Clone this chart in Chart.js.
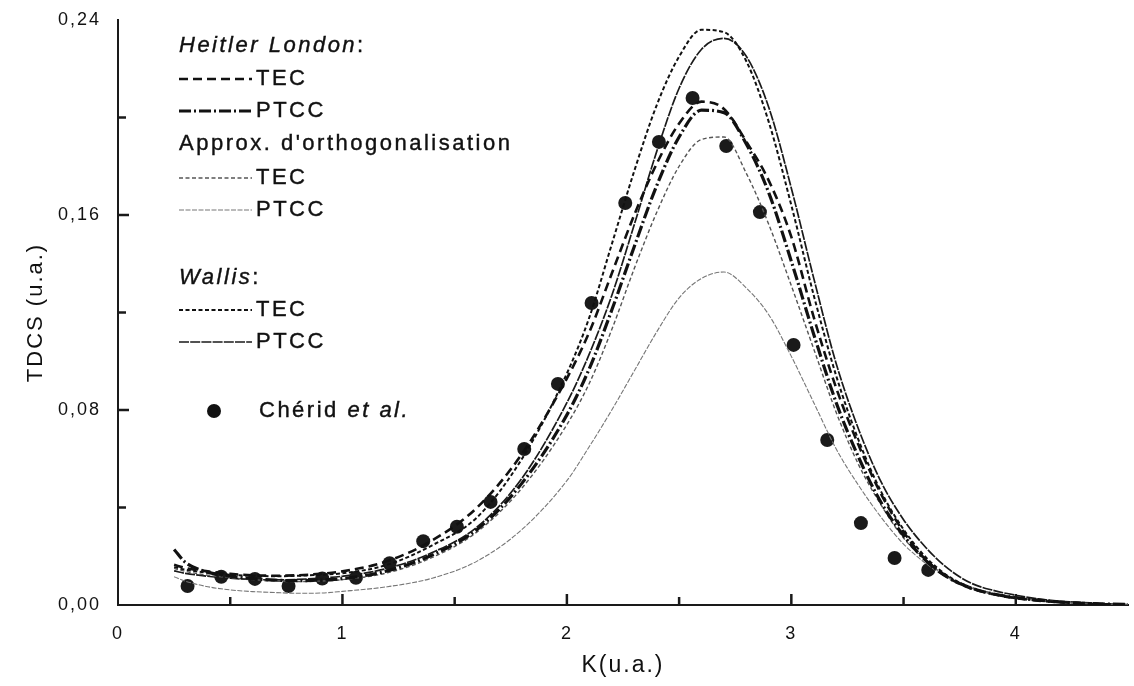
<!DOCTYPE html>
<html>
<head>
<meta charset="utf-8">
<script src="https://cdn.jsdelivr.net/npm/chart.js@4.4.0/dist/chart.umd.min.js"></script>
<style>
  html, body { margin: 0; padding: 0; background: #fff; }
  #wrap { width: 1134px; height: 686px; }
</style>
</head>
<body>
<div id="wrap"><canvas id="tdcsChart"></canvas></div>
<script>
// K grid (u.a.) shared by every theoretical curve
const kGrid = [0.25, 0.3, 0.4, 0.5, 0.6, 0.7, 0.8, 0.9, 1.0,
  1.2, 1.4, 1.6, 1.8, 2.0,
  2.1, 2.2, 2.3, 2.4, 2.5, 2.6, 2.7, 2.8, 2.9, 3.0,
  3.1, 3.2, 3.3, 3.4, 3.5, 3.6, 3.7, 3.8, 3.9, 4.0,
  4.1, 4.2, 4.3, 4.4, 4.5];

// Heitler London
const hlTec = [0.0165, 0.0152, 0.0138, 0.0128, 0.0122, 0.0120, 0.0122, 0.0128, 0.0138,
  0.0180, 0.0265, 0.0400, 0.0620, 0.0930,
  0.1120, 0.1360, 0.1600, 0.1810, 0.1975, 0.2065, 0.2035, 0.1900, 0.1740, 0.1510,
  0.1180, 0.0890, 0.0655, 0.0455, 0.0300, 0.0185, 0.0112, 0.0068, 0.0044, 0.0028,
  0.0018, 0.0011, 0.0006, 0.0003, 0.0001];
const hlPtcc = [0.0228, 0.0175, 0.0135, 0.0118, 0.0108, 0.0102, 0.0100, 0.0102, 0.0108,
  0.0140, 0.0205, 0.0310, 0.0500, 0.0780,
  0.0970, 0.1210, 0.1470, 0.1720, 0.1920, 0.2030, 0.2020, 0.1890, 0.1690, 0.1410,
  0.1110, 0.0830, 0.0605, 0.0420, 0.0285, 0.0182, 0.0112, 0.0070, 0.0045, 0.0030,
  0.0020, 0.0012, 0.0007, 0.0004, 0.0002];

// Approx. d'orthogonalisation
const orthTec = [0.0150, 0.0138, 0.0122, 0.0112, 0.0104, 0.0098, 0.0096, 0.0098, 0.0104,
  0.0132, 0.0195, 0.0300, 0.0480, 0.0740,
  0.0910, 0.1130, 0.1380, 0.1610, 0.1800, 0.1910, 0.1920, 0.1770, 0.1560, 0.1310,
  0.1050, 0.0790, 0.0575, 0.0410, 0.0275, 0.0182, 0.0112, 0.0070, 0.0045, 0.0030,
  0.0020, 0.0012, 0.0007, 0.0004, 0.0002];
const orthPtcc = [0.0116, 0.0098, 0.0075, 0.0062, 0.0055, 0.0051, 0.0048, 0.0049, 0.0056,
  0.0075, 0.0110, 0.0180, 0.0310, 0.0510,
  0.0650, 0.0800, 0.0960, 0.1120, 0.1260, 0.1340, 0.1366, 0.1300, 0.1190, 0.1020,
  0.0830, 0.0640, 0.0490, 0.0360, 0.0250, 0.0170, 0.0110, 0.0070, 0.0045, 0.0030,
  0.0020, 0.0012, 0.0007, 0.0004, 0.0002];

// Wallis
const wallisTec = [0.0155, 0.0145, 0.0132, 0.0124, 0.0120, 0.0118, 0.0120, 0.0124, 0.0130,
  0.0165, 0.0245, 0.0360, 0.0600, 0.0950,
  0.1180, 0.1480, 0.1780, 0.2050, 0.2250, 0.2360, 0.2350, 0.2230, 0.1980, 0.1640,
  0.1270, 0.0940, 0.0675, 0.0465, 0.0310, 0.0195, 0.0118, 0.0072, 0.0046, 0.0030,
  0.0020, 0.0013, 0.0008, 0.0004, 0.0002];
const wallisPtcc = [0.0140, 0.0130, 0.0118, 0.0110, 0.0105, 0.0103, 0.0105, 0.0110, 0.0118,
  0.0150, 0.0215, 0.0320, 0.0520, 0.0830,
  0.1030, 0.1270, 0.1560, 0.1860, 0.2120, 0.2280, 0.2325, 0.2250, 0.2040, 0.1710,
  0.1340, 0.0990, 0.0720, 0.0505, 0.0350, 0.0235, 0.0148, 0.0090, 0.0060, 0.0040,
  0.0025, 0.0015, 0.0010, 0.0005, 0.0002];

// Chérid et al. (experiment)
const cheridK = [0.31, 0.46, 0.61, 0.76, 0.91, 1.06, 1.21, 1.36, 1.51, 1.66, 1.81, 1.96,
  2.11, 2.26, 2.41, 2.56, 2.71, 2.86, 3.01, 3.16, 3.31, 3.46, 3.61];
const cheridTdcs = [0.0078, 0.0116, 0.0107, 0.0078, 0.0109, 0.0112, 0.0171, 0.0262, 0.0321,
  0.0423, 0.0640, 0.0907, 0.1239, 0.1649, 0.1900, 0.2080, 0.1883, 0.1612, 0.1067,
  0.0677, 0.0336, 0.0193, 0.0144];

// Axis ticks
const xTickLabels = [0, 1, 2, 3, 4];
const yTickLabels = [0, 0.08, 0.16, 0.24];

const toPoints = (xs, ys) => xs.map((x, i) => ({ x: x, y: ys[i] }));

function curve(label, values, color, width, dash) {
  return {
    label: label,
    data: toPoints(kGrid, values),
    showLine: true,
    borderColor: color,
    borderWidth: width,
    borderDash: dash,
    pointRadius: 0,
    fill: false,
    cubicInterpolationMode: 'monotone'
  };
}

const datasets = [
  curve('HL TEC', hlTec, '#111', 2.6, [9, 5]),
  curve('HL PTCC', hlPtcc, '#111', 3.2, [12, 3, 2, 3]),
  curve('Orth TEC', orthTec, '#555', 1.4, [4, 2.5]),
  curve('Orth PTCC', orthPtcc, '#777', 1.1, [5, 1.5]),
  curve('Wallis TEC', wallisTec, '#111', 2, [4, 2.5]),
  curve('Wallis PTCC', wallisPtcc, '#1a1a1a', 1.7, [10, 1.2]),
  {
    label: 'Chérid et al.',
    data: toPoints(cheridK, cheridTdcs),
    showLine: false,
    pointRadius: 7,
    pointBackgroundColor: '#1a1a1a',
    pointBorderColor: '#1a1a1a',
    pointBorderWidth: 0
  }
];

const FONT = "'Liberation Sans', Arial, sans-serif";

// letter spacing for the axis text (the scan uses wide tracking)
const spacingPlugin = {
  id: 'spacing',
  beforeDraw(chart) { chart.ctx.letterSpacing = '2px'; },
  beforeDatasetsDraw(chart) { chart.ctx.letterSpacing = '0px'; }
};

// inward tick marks on both axes
const innerTicks = {
  id: 'innerTicks',
  afterDraw(chart) {
    const { ctx, chartArea } = chart;
    const x = chart.scales.x, y = chart.scales.y;
    ctx.save();
    ctx.strokeStyle = '#1a1a1a';
    ctx.lineWidth = 2.5;
    ctx.setLineDash([]);
    for (let i = 1; i < 9; i++) {
      const px = x.getPixelForValue(i * 0.5);
      const len = (i % 2 === 0) ? 11 : 8;
      ctx.beginPath();
      ctx.moveTo(px, chartArea.bottom);
      ctx.lineTo(px, chartArea.bottom - len);
      ctx.stroke();
    }
    for (let i = 1; i < 6; i++) {
      const py = y.getPixelForValue(i * 0.04);
      const len = (i % 2 === 0) ? 11 : 8;
      ctx.beginPath();
      ctx.moveTo(chartArea.left, py);
      ctx.lineTo(chartArea.left + len, py);
      ctx.stroke();
    }
    ctx.restore();
  }
};

// legend drawn inside the plot, grouped by model
const groupLegend = {
  id: 'groupLegend',
  afterDraw(chart) {
    const ctx = chart.ctx;
    const ds = chart.data.datasets;
    const x0 = 179, x1 = 252, tx = 256;
    ctx.save();
    ctx.letterSpacing = '2.5px';
    ctx.fillStyle = '#111';
    ctx.strokeStyle = '#111';
    ctx.lineWidth = 0.4;
    ctx.textBaseline = 'middle';

    function runs(x, y, parts) {
      parts.forEach(p => {
        ctx.font = (p.italic ? 'italic ' : '') + '22px ' + FONT;
        ctx.fillText(p.text, x, y);
        ctx.strokeText(p.text, x, y);
        x += ctx.measureText(p.text).width;
      });
    }
    function sample(d, y, label) {
      ctx.save();
      ctx.strokeStyle = d.borderColor;
      ctx.lineWidth = d.borderWidth;
      ctx.setLineDash(d.borderDash || []);
      ctx.beginPath();
      ctx.moveTo(x0, y);
      ctx.lineTo(x1, y);
      ctx.stroke();
      ctx.restore();
      runs(tx, y, [{ text: label }]);
    }

    runs(x0, 46, [{ text: 'Heitler London', italic: true }, { text: ':' }]);
    sample(ds[0], 79, 'TEC');
    sample(ds[1], 111, 'PTCC');
    runs(x0, 144, [{ text: "Approx. d'orthogonalisation" }]);
    sample(ds[2], 178, 'TEC');
    sample(ds[3], 210, 'PTCC');
    runs(x0, 278, [{ text: 'Wallis', italic: true }, { text: ':' }]);
    sample(ds[4], 310, 'TEC');
    sample(ds[5], 342, 'PTCC');

    ctx.beginPath();
    ctx.arc(214, 411, 7, 0, Math.PI * 2);
    ctx.fill();
    runs(259, 411, [{ text: 'Chérid ' }, { text: 'et al.', italic: true }]);
    ctx.restore();
  }
};

const ctx = document.getElementById('tdcsChart').getContext('2d');
const tdcsChart = new Chart(ctx, {
  type: 'scatter',
  data: { datasets: datasets },
  options: {
    responsive: true,
    maintainAspectRatio: false,
    animation: false,
    layout: { autoPadding: false, padding: { top: 20, right: 6, left: 0, bottom: 0 } },
    plugins: {
      legend: { display: false },
      tooltip: { enabled: false }
    },
    scales: {
      x: {
        type: 'linear',
        min: 0,
        max: 4.5,
        afterBuildTicks: s => { s.ticks = xTickLabels.map(v => ({ value: v })); },
        afterFit: s => { s.height = 81; },
        grid: { display: false, drawTicks: false },
        border: { display: true, color: '#1a1a1a', width: 2 },
        ticks: {
          color: '#111',
          padding: 18,
          font: { family: FONT, size: 18 },
          maxRotation: 0,
          callback: v => String(v)
        },
        title: {
          display: true,
          text: 'K(u.a.)',
          color: '#111',
          font: { family: FONT, size: 23 },
          padding: { top: 0, bottom: 7 }
        }
      },
      y: {
        type: 'linear',
        min: 0,
        max: 0.24,
        afterBuildTicks: s => { s.ticks = yTickLabels.map(v => ({ value: v })); },
        afterFit: s => { s.width = 118; },
        grid: { display: false, drawTicks: false },
        border: { display: true, color: '#1a1a1a', width: 2 },
        ticks: {
          color: '#111',
          padding: 17,
          font: { family: FONT, size: 18, lineHeight: 0.3 },
          callback: v => v.toFixed(2).replace('.', ',')
        },
        title: {
          display: true,
          text: 'TDCS (u.a.)',
          color: '#111',
          font: { family: FONT, size: 22 },
          padding: { top: 23, bottom: 0 }
        }
      }
    }
  },
  plugins: [spacingPlugin, innerTicks, groupLegend]
});
</script>
</body>
</html>
